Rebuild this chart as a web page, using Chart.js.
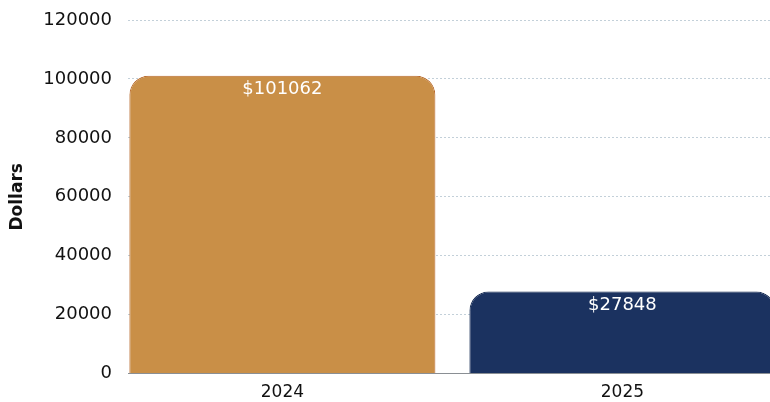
<!DOCTYPE html>
<html>
<head>
<meta charset="utf-8">
<script src="https://cdn.jsdelivr.net/npm/chart.js@4/dist/chart.umd.min.js"></script>
<style>
  html, body { margin: 0; padding: 0; background: #ffffff; overflow: hidden; }
  #wrap { width: 770px; height: 402px; position: relative; }
</style>
</head>
<body>
<div id="wrap"><canvas id="chart"></canvas></div>
<script>
// Datos
const years      = ['2024', '2025'];
const dollars    = [101062, 27848];
const barColors  = ['#c98f47', '#1b3260'];
const barEdges   = ['#b8692c', '#152a52'];
const yTicks     = [0, 20000, 40000, 60000, 80000, 100000, 120000];

const FONT = "'DejaVu Sans', 'Noto Sans', sans-serif";

/** Etiqueta "$valor" en blanco, dentro de la barra, arriba */
const valueLabels = {
  id: 'valueLabels',
  afterDatasetsDraw(chart) {
    const { ctx } = chart;
    const meta = chart.getDatasetMeta(0);
    ctx.save();
    ctx.fillStyle    = '#ffffff';
    ctx.font         = '18px ' + FONT;
    ctx.textAlign    = 'center';
    ctx.textBaseline = 'middle';
    meta.data.forEach((bar, i) => {
      ctx.fillText('$' + dollars[i], bar.x, bar.y + 14);
    });
    ctx.restore();
  },
};

new Chart(document.getElementById('chart'), {
  type: 'bar',
  data: {
    datasets: [{
      data:            dollars.map((v, i) => ({ x: i, y: v })),
      backgroundColor: barColors,
      borderColor:     barEdges,
      borderWidth:     1,
      borderSkipped:   'bottom',
      borderRadius:    { topLeft: 19, topRight: 19 },
      barPercentage:   0.9,
      categoryPercentage: 1,
    }],
  },
  options: {
    responsive: true,
    maintainAspectRatio: false,
    animation: false,
    layout: { padding: { top: 20, right: 0, bottom: -10, left: 0 } },
    plugins: { legend: { display: false }, tooltip: { enabled: false } },
    scales: {
      x: {
        type: 'linear',
        offset: false,
        min: -0.454,
        max: 1.434,
        afterBuildTicks: s => { s.ticks = years.map((_, i) => ({ value: i })); },
        ticks: {
          callback: v => years[v],
          font:  { family: FONT, size: 17 },
          color: '#111111',
          padding: 9,
          maxRotation: 0,
        },
        grid:   { display: false, drawTicks: false },
        border: { display: false },
      },
      y: {
        min: yTicks[0],
        max: yTicks[yTicks.length - 1],
        afterBuildTicks: s => { s.ticks = yTicks.map(v => ({ value: v })); },
        afterFit: s => { s.width = 128; s.paddingTop = 0; s.paddingBottom = 0; },
        ticks: {
          callback: v => String(v),
          font:    { family: FONT, size: 18 },
          color:   '#111111',
          padding: 16,
        },
        grid: {
          drawTicks: false,
          color:     c => (c.tick && c.tick.value === 0 ? '#8a8f94' : '#c3d0d9'),
          lineWidth: 1,
        },
        border: {
          display: false,
          dash: c => (c.tick && c.tick.value === 0 ? [] : [2, 2]),
        },
        title: {
          display: true,
          text:    'Dollars',
          font:    { family: FONT, size: 17, weight: 'bold' },
          color:   '#111111',
          padding: { top: 7, bottom: 0 },
        },
      },
    },
  },
  plugins: [valueLabels],
});
</script>
</body>
</html>
